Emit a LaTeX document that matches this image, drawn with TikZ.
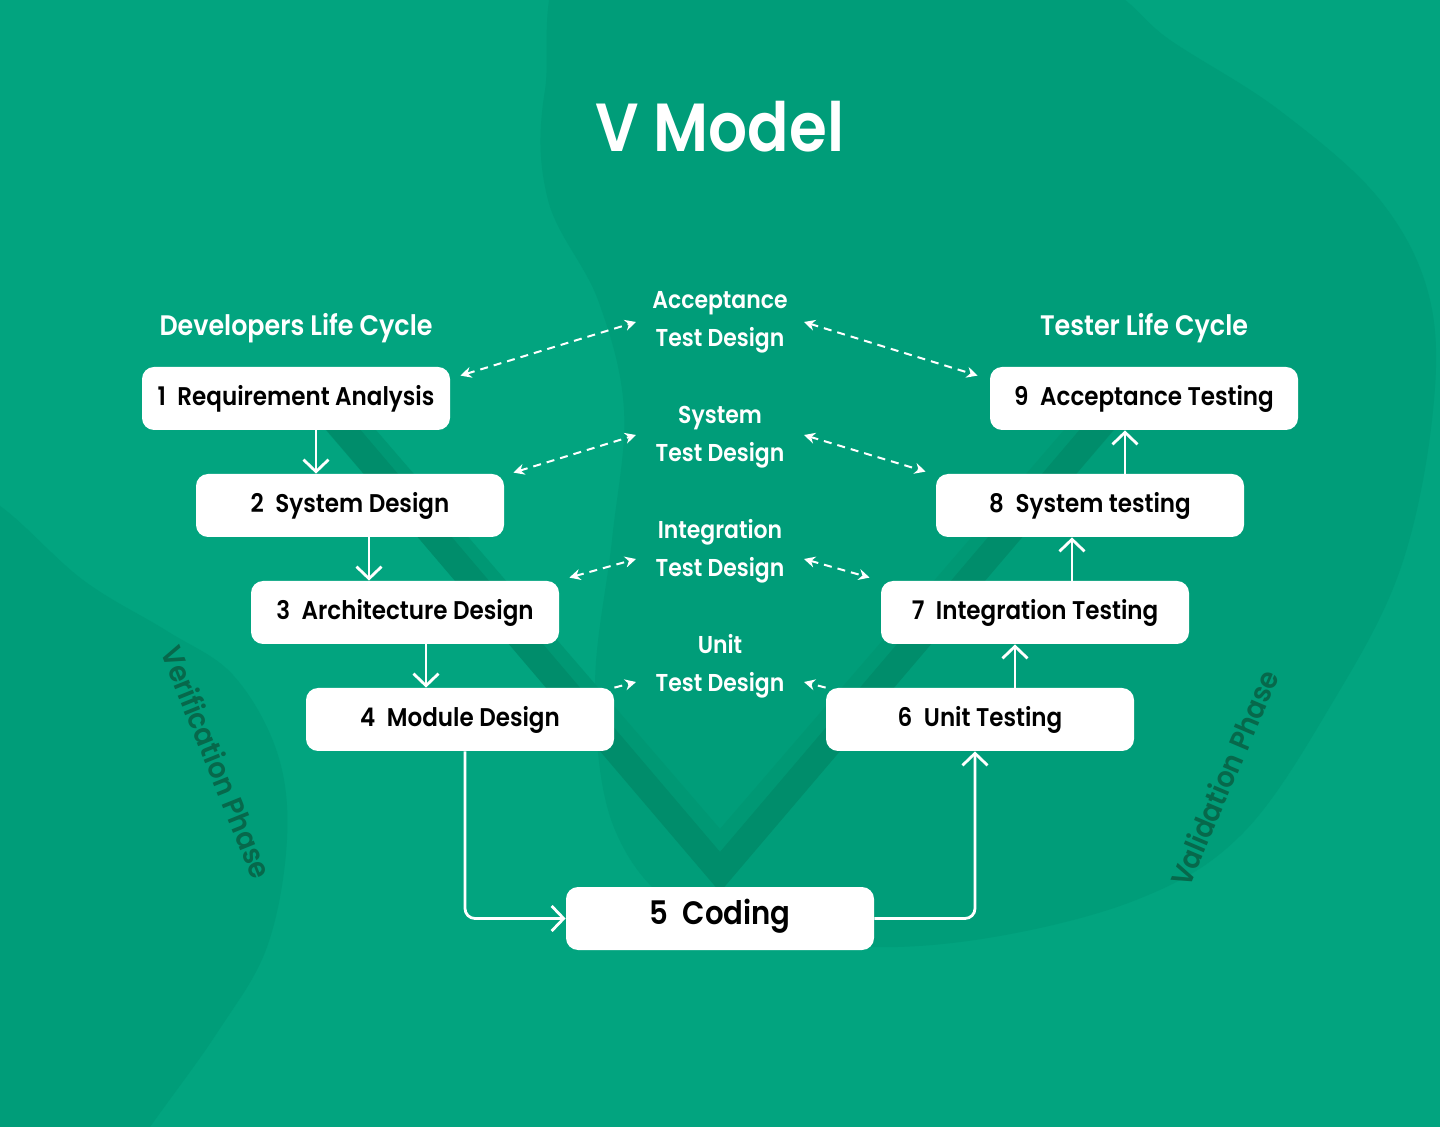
\documentclass[tikz,border=0pt]{standalone}
\usepackage{fontspec}
\setmainfont{Poppins}[BoldFont={* SemiBold},FakeStretch=0.9]
\newfontfamily\medfont{Poppins}[UprightFont={* SemiBold},FakeStretch=0.92]
\usetikzlibrary{arrows.meta,calc}
\definecolor{bgA}{HTML}{02A47F}
\definecolor{bgB}{HTML}{009D79}
\definecolor{vstripe}{HTML}{008D6B}
\definecolor{vshadow}{HTML}{009874}
\definecolor{phasecol}{HTML}{07684B}
\newcommand\bxfont{\fontsize{12.8}{15}\selectfont\bfseries}
\newcommand\cdfont{\fontsize{16.2}{19}\selectfont\bfseries}
\newcommand\ttlfont{\fontsize{34}{40}\selectfont\bfseries}
\newcommand\hdfont{\fontsize{14.1}{16}\selectfont\bfseries}
\newcommand\mdfont{\fontsize{12.2}{15}\selectfont\bfseries}
\newcommand\phfont{\fontsize{14.6}{16}\selectfont\medfont}
\newcommand\gap{\hspace{0.45em}}
\begin{document}
\begin{tikzpicture}[x=0.5pt,y=-0.5pt,
  box/.style={fill=white, rounded corners=6pt, minimum width=154pt, minimum height=31.5pt,
    inner sep=0pt, font=\bxfont, text=black, text height=0.7em, text depth=0pt},
  cbox/.style={box, font=\cdfont, text height=0.62em},
  lbl/.style={text=white, inner sep=0pt, anchor=base},
  arr/.style={draw=white, line width=1.4pt, -{Straight Barb[length=6pt,width=12.5pt]}},
  darr/.style={draw=white, line width=1pt, dash pattern=on 4pt off 3pt,
    {Stealth[length=5.5pt,width=5.5pt]}-{Stealth[length=5.5pt,width=5.5pt]}},
  sarr/.style={draw=white, line width=1pt, dash pattern=on 4pt off 3pt,
    -{Stealth[length=5.5pt,width=5.5pt]}},
  phase/.style={text=phasecol, font=\phfont, inner sep=0pt}]
\useasboundingbox (0,0) rectangle (1440,1127);
\fill[bgA] (0,0) rectangle (1440,1127);
\begin{scope}
\clip (0,0) rectangle (1440,1127);
\fill[bgB] plot[smooth cycle, tension=0.6] coordinates {(590,-60) (545,90) (548,200) (598,300) (624,410) (612,540) (595,690) (615,830) (690,915) (830,945) (975,940) (1136,900) (1243,833) (1334,700) (1400,570) (1432,420) (1430,300) (1380,200) (1279,110) (1170,40) (1090,-20) (900,-70)};
\fill[bgB] plot[smooth cycle, tension=0.6] coordinates {(-60,480) (0,506) (83,580) (167,631) (233,675) (277,752) (287,839) (267,947) (217,1033) (150,1127) (100,1200) (-60,1200)};
\end{scope}
% V stripe
\draw[vshadow, line width=19pt, line join=miter] (325,400) -- (720,858) -- (1115,400);
\draw[vstripe, line width=13pt, line join=miter] (335,420) -- (720,872) -- (1105,420);

% title and headers
\node[lbl, font=\ttlfont] (title) at (720,152) {V Model};
\node[lbl, font=\hdfont] (devh) at (296,336) {Developers Life Cycle};
\node[lbl, font=\hdfont] (tsth) at (1144,336) {Tester Life Cycle};

% boxes
\node[box] (r1) at (296,398.5) {1\gap Requirement Analysis};
\node[box] (s2) at (350,505.5) {2\gap System Design};
\node[box] (a3) at (405,612.5) {3\gap Architecture Design};
\node[box] (m4) at (460,719.5) {4\gap Module Design};
\node[cbox] (c5) at (720,918.5) {5\gap Coding};
\node[box] (u6) at (980,719.5) {6\gap Unit Testing};
\node[box] (i7) at (1035,612.5) {7\gap Integration Testing};
\node[box] (s8) at (1090,505.5) {8\gap System testing};
\node[box] (a9) at (1144,398.5) {9\gap Acceptance Testing};

% middle labels
\node[lbl, font=\mdfont] (acc1) at (720,309) {Acceptance};
\node[lbl, font=\mdfont] (acc2) at (720,347) {Test Design};
\node[lbl, font=\mdfont] (sys1) at (720,424) {System};
\node[lbl, font=\mdfont] (sys2) at (720,462) {Test Design};
\node[lbl, font=\mdfont] (int1) at (720,539) {Integration};
\node[lbl, font=\mdfont] (int2) at (720,577) {Test Design};
\node[lbl, font=\mdfont] (uni1) at (720,654) {Unit};
\node[lbl, font=\mdfont] (uni2) at (720,692) {Test Design};

% phase labels
\node[phase, rotate=-68] (ver) at (217,762) {Verification Phase};
\node[phase, rotate=67] (val) at (1224,778) {Validation Phase};

% solid flow arrows
\draw[arr] ([shift={(20,0)}]r1.south) -- ([shift={(20,0)}]r1.south |- s2.north);
\draw[arr] ([shift={(19,0)}]s2.south) -- ([shift={(19,0)}]s2.south |- a3.north);
\draw[arr] ([shift={(21,0)}]a3.south) -- ([shift={(21,0)}]a3.south |- m4.north);
\draw[arr, rounded corners=5pt] ([shift={(5,0)}]m4.south) |- (c5.west);
\draw[arr, rounded corners=5pt] (c5.east) -| ([shift={(-5,0)}]u6.south);
\draw[arr] ([shift={(35,0)}]u6.north) -- ([shift={(35,0)}]u6.north |- i7.south);
\draw[arr] ([shift={(37,0)}]i7.north) -- ([shift={(37,0)}]i7.north |- s8.south);
\draw[arr] ([shift={(35,0)}]s8.north) -- ([shift={(35,0)}]s8.north |- a9.south);

% dashed links
\draw[darr] ([shift={(10,9)}]r1.north east) -- ([shift={(-84,-25)}]acc2.base);
\draw[darr] ([shift={(84,-25)}]acc2.base) -- ([shift={(-12,9)}]a9.north west);
\draw[darr] ([shift={(9,-1)}]s2.north east) -- ([shift={(-84,-27)}]sys2.base);
\draw[darr] ([shift={(84,-27)}]sys2.base) -- ([shift={(-10,-2)}]s8.north west);
\draw[darr] ([shift={(10,-3)}]a3.north east) -- ([shift={(-84,-18)}]int2.base);
\draw[darr] ([shift={(84,-18)}]int2.base) -- ([shift={(-11,-3)}]i7.north west);
\draw[sarr] (m4.north east) -- ([shift={(-84,-10)}]uni2.base);
\draw[sarr] (u6.north west) -- ([shift={(84,-10)}]uni2.base);
\end{tikzpicture}
\end{document}
